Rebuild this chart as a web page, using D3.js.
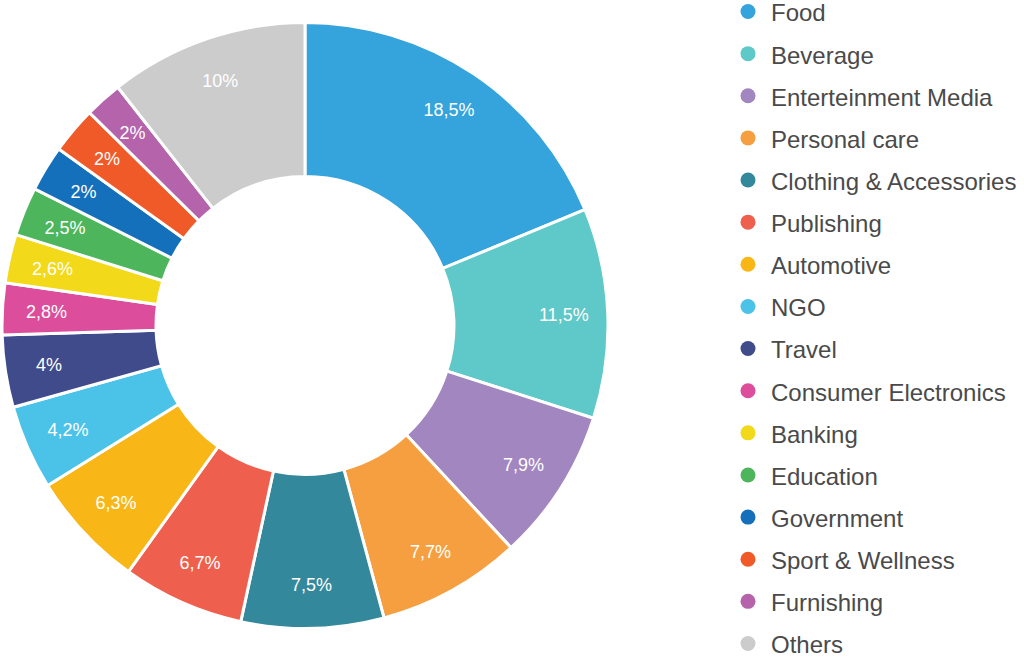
<!DOCTYPE html>
<html><head><meta charset="utf-8">
<script src="https://cdn.jsdelivr.net/npm/d3@7"></script>
<style>
html,body{margin:0;padding:0;background:#fff;}
svg{display:block;font-family:"Liberation Sans",Arial,Helvetica,sans-serif;}
</style></head>
<body>
<svg id="chart" width="1024" height="666"></svg>
<script>
const categories = ["Food","Beverage","Enterteinment Media","Personal care","Clothing & Accessories","Publishing","Automotive","NGO","Travel","Consumer Electronics","Banking","Education","Government","Sport & Wellness","Furnishing","Others"];
// slice sizes as drawn in the picture (they do not exactly follow the printed labels)
const values = [18.75,11.2,8.15,7.7,7.6,6.5,6.25,4.5,3.85,2.75,2.6,2.6,2.45,2.5,2.0,10.6];
const labels = ["18,5%","11,5%","7,9%","7,7%","7,5%","6,7%","6,3%","4,2%","4%","2,8%","2,6%","2,5%","2%","2%","2%","10%"];
const colors = ["#35a3dc","#5fc8c8","#a286c0","#f69f40","#33889c","#ef5f4d","#f8b717","#4bc3e8","#3f4b8b","#dc4d9c","#f2d91a","#4db55c","#1570bc","#f05a28","#b563ab","#cccccd"];

const svg = d3.select("#chart");
const cx = 305, cy = 325.5;
const outerR = 303, innerR = 149, labelR = 259;

const color = d3.scaleOrdinal().domain(categories).range(colors);
const pie = d3.pie().sort(null).value(d => d.value);
const data = categories.map((c,i) => ({cat:c, value:values[i], label:labels[i]}));
const arcs = pie(data);
const arc = d3.arc().innerRadius(innerR).outerRadius(outerR);
const labelArc = d3.arc().innerRadius(labelR).outerRadius(labelR);

const g = svg.append("g").attr("transform", `translate(${cx},${cy})`);
g.selectAll("path").data(arcs).join("path")
  .attr("d", arc)
  .attr("fill", d => color(d.data.cat))
  .attr("stroke", "#fff")
  .attr("stroke-width", 3)
  .attr("stroke-linejoin", "miter");

g.selectAll("text").data(arcs).join("text")
  .attr("transform", d => `translate(${labelArc.centroid(d)})`)
  .attr("text-anchor", "middle")
  .attr("dy", "0.35em")
  .attr("fill", "#fff")
  .attr("font-size", 18)
  .text(d => d.data.label);

const legend = svg.append("g");
const ly = d3.scalePoint().domain(categories).range([13, 645]);
const items = legend.selectAll("g").data(categories).join("g")
  .attr("transform", d => `translate(0,${ly(d)})`);
items.append("circle").attr("cx", 748).attr("cy", -1.5).attr("r", 7.5).attr("fill", d => color(d));
items.append("text").attr("x", 771).attr("y", 0).attr("dy", "0.35em")
  .attr("font-size", 24).attr("fill", "#4a4a4a").text(d => d);
</script>
</body></html>
